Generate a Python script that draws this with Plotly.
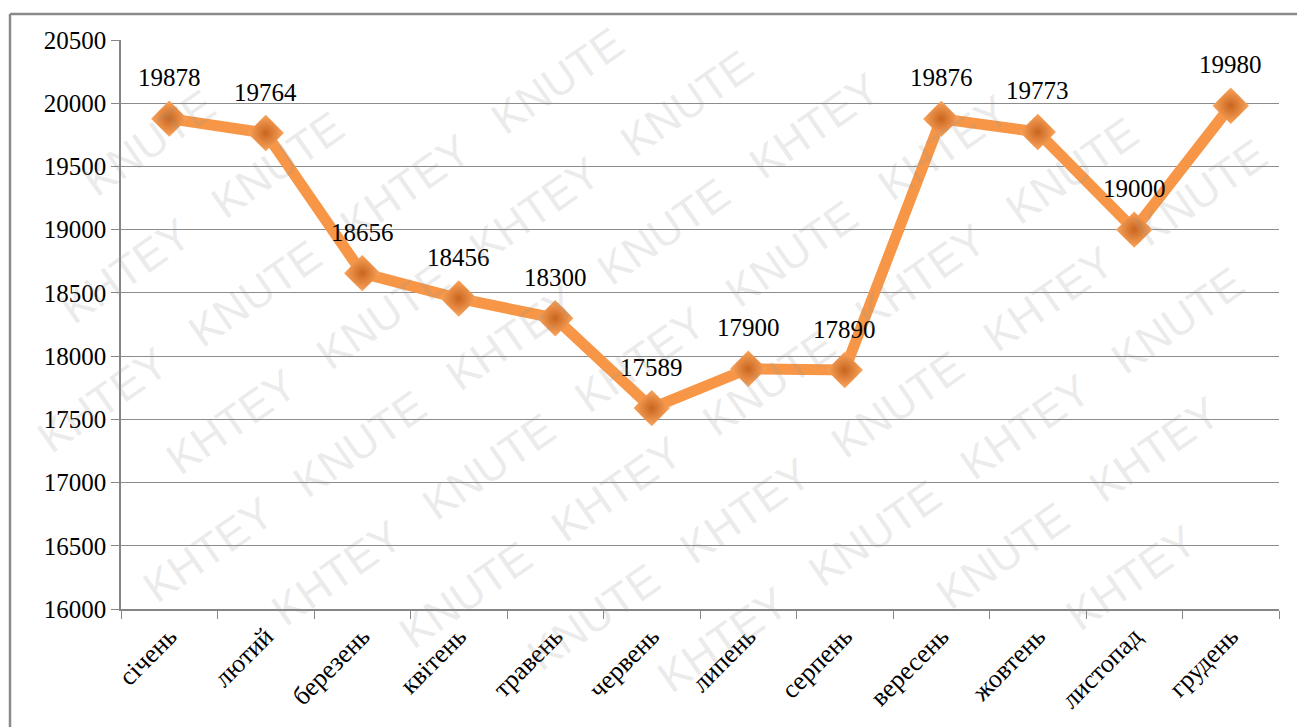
import math
import plotly.graph_objects as go

months = ["січень", "лютий", "березень", "квітень", "травень", "червень",
          "липень", "серпень", "вересень", "жовтень", "листопад", "грудень"]
values = [19878, 19764, 18656, 18456, 18300, 17589, 17900, 17890, 19876, 19773, 19000, 19980]
y_ticks = [16000, 16500, 17000, 17500, 18000, 18500, 19000, 19500, 20000, 20500]
watermark_words = ["KHTEY", "KNUTE"]

W, H = 1297, 727
L, R, T, B = 121, 18, 40, 118
pw, ph = W - L - R, H - T - B
SERIF = "Liberation Serif, Times New Roman, DejaVu Serif, serif"

fig = go.Figure()
fig.add_trace(go.Scatter(
    x=months, y=values, mode="lines+markers",
    line=dict(color="#F79646", width=11),
    marker=dict(symbol="diamond", size=28, color="#FBA55C",
                gradient=dict(type="radial", color="#C9651F"),
                line=dict(width=0)),
    hoverinfo="x+y", showlegend=False,
))

annotations = []
for m, v in zip(months, values):
    annotations.append(dict(x=m, y=v, text=str(v), showarrow=False, yshift=41,
                            font=dict(family=SERIF, size=25, color="black")))

# watermark: individual words along diagonal lines, kept fully inside the page
ang = math.radians(35)
ux, uy = math.cos(ang), -math.sin(ang)
vx, vy = math.sin(ang), math.cos(ang)
step_a, step_p = 185, 92
half_w, half_h = 80, 22
bw = half_w * math.cos(ang) + half_h * math.sin(ang)
bh = half_w * math.sin(ang) + half_h * math.cos(ang)
cx0, cy0 = 640, 360
for j in range(-12, 13):
    for i in range(-12, 13):
        px = cx0 + i * step_a * ux + j * step_p * vx + (j % 2) * step_a / 2 * ux
        py = cy0 + i * step_a * uy + j * step_p * vy + (j % 2) * step_a / 2 * uy
        if bw + 2 <= px <= W - bw - 2 and bh + 2 <= py <= H - bh - 2:
            annotations.append(dict(
                xref="paper", yref="paper", x=(px - L) / pw, y=(H - B - py) / ph,
                text=watermark_words[(i + j) % 2], showarrow=False, textangle=-35,
                font=dict(family="Liberation Sans", size=44, color="rgba(150,150,150,0.20)"),
                xanchor="center", yanchor="middle"))

shapes = [
    dict(type="line", xref="paper", yref="paper", x0=(10 - L) / pw, x1=(W + 5 - L) / pw,
         y0=(H - B - 14) / ph, y1=(H - B - 14) / ph, line=dict(color="#8a8a8a", width=2.5)),
    dict(type="line", xref="paper", yref="paper", x0=(10 - L) / pw, x1=(10 - L) / pw,
         y0=(H - B - 14) / ph, y1=(H - B - H - 10) / ph, line=dict(color="#8a8a8a", width=2.5)),
]

fig.update_layout(
    width=W, height=H,
    margin=dict(l=L, r=R, t=T, b=B, pad=0, autoexpand=False),
    paper_bgcolor="white", plot_bgcolor="white",
    annotations=annotations, shapes=shapes,
    font=dict(family=SERIF, color="black"),
    xaxis=dict(type="category", range=[-0.5, len(months) - 0.5], tickangle=-45,
               tickson="boundaries", ticks="outside",
               ticklen=8, tickcolor="#868686", showline=True, linecolor="#868686",
               linewidth=1.5, showgrid=False, automargin=False,
               tickfont=dict(family=SERIF, size=26, color="black")),
    yaxis=dict(range=[16000, 20500], tickvals=y_ticks, tickformat="d", ticks="outside",
               ticklen=8, tickcolor="#868686", showline=True, linecolor="#868686",
               linewidth=1.5, showgrid=True, gridcolor="#8c8c8c", gridwidth=1,
               zeroline=False, automargin=False,
               tickfont=dict(family=SERIF, size=25, color="black")),
)

fig.write_html("out.html", config={"displayModeBar": False},
               post_script="document.body.style.margin='0';")
